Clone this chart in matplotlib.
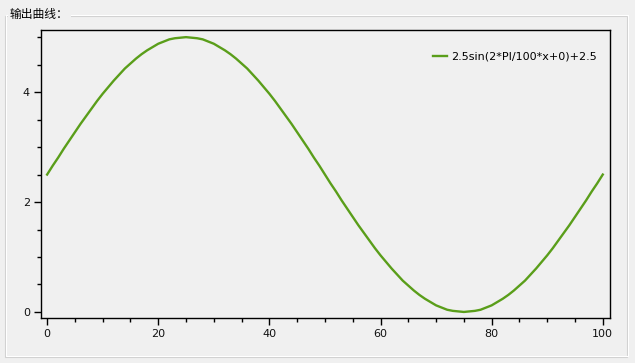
import matplotlib
matplotlib.use("Agg")
import matplotlib.pyplot as plt
from matplotlib.patches import Rectangle
from matplotlib.ticker import MultipleLocator

# Data (one sample per x unit)
x_vals = list(range(0, 101))
y_vals = [2.50, 2.66, 2.81, 2.97, 3.12, 3.27, 3.42, 3.56, 3.70, 3.84,
          3.97, 4.09, 4.21, 4.32, 4.43, 4.52, 4.61, 4.69, 4.76, 4.82,
          4.88, 4.92, 4.96, 4.98, 4.99, 5.00, 4.99, 4.98, 4.96, 4.92,
          4.88, 4.82, 4.76, 4.69, 4.61, 4.52, 4.43, 4.32, 4.21, 4.09,
          3.97, 3.84, 3.70, 3.56, 3.42, 3.27, 3.12, 2.97, 2.81, 2.66,
          2.50, 2.34, 2.19, 2.03, 1.88, 1.73, 1.58, 1.44, 1.30, 1.16,
          1.03, 0.91, 0.79, 0.68, 0.57, 0.48, 0.39, 0.31, 0.24, 0.18,
          0.12, 0.08, 0.04, 0.02, 0.01, 0.00, 0.01, 0.02, 0.04, 0.08,
          0.12, 0.18, 0.24, 0.31, 0.39, 0.48, 0.57, 0.68, 0.79, 0.91,
          1.03, 1.16, 1.30, 1.44, 1.58, 1.73, 1.88, 2.03, 2.19, 2.34,
          2.50]
series_label = "2.5sin(2*PI/100*x+0)+2.5"
group_title = "输出曲线："
x_ticks = [0, 20, 40, 60, 80, 100]
y_ticks = [0, 2, 4]

W, H = 635, 363
bg = "#f0f0f0"
fig = plt.figure(figsize=(W / 100, H / 100), dpi=100, facecolor=bg)

# group box (etched frame)
fig.patches.append(Rectangle((5 / W, 1 - 357 / H), 622 / W, 341 / H, transform=fig.transFigure,
                             fill=False, edgecolor="#d0d0d0", linewidth=0.8))
fig.patches.append(Rectangle((6 / W, 1 - 356 / H), 622 / W, 341 / H, transform=fig.transFigure,
                             fill=False, edgecolor="#ffffff", linewidth=0.8))
fig.text(10 / W, 1 - 14 / H, group_title, fontsize=8.5, va="center", ha="left",
         family=["Noto Sans CJK SC", "DejaVu Sans"], color="#000000",
         bbox=dict(facecolor=bg, edgecolor="none", pad=1.5))

ax = fig.add_axes([41 / W, 1 - 318 / H, (610 - 41) / W, (318 - 30) / H])
ax.set_facecolor(bg)
ax.plot(x_vals, y_vals, color="#5a9e1a", linewidth=1.7, label=series_label,
        solid_joinstyle="round")
ax.set_xlim(-1.1, 101.3)
ax.set_ylim(-0.11, 5.13)
ax.set_xticks(x_ticks)
ax.set_yticks(y_ticks)
ax.xaxis.set_minor_locator(MultipleLocator(5))
ax.yaxis.set_minor_locator(MultipleLocator(0.5))
ax.tick_params(which="major", length=5, width=1, direction="out", labelsize=8, pad=3)
ax.tick_params(which="minor", length=3, width=1, direction="out")
for s in ax.spines.values():
    s.set_linewidth(1)
    s.set_color("black")
for lab in ax.get_xticklabels() + ax.get_yticklabels():
    lab.set_color("#111111")

leg = ax.legend(loc="upper right", frameon=False, fontsize=8, handlelength=1.3,
                handletextpad=0.4, bbox_to_anchor=(0.995, 0.96))

fig.savefig("out.png", dpi=100, facecolor=bg)
